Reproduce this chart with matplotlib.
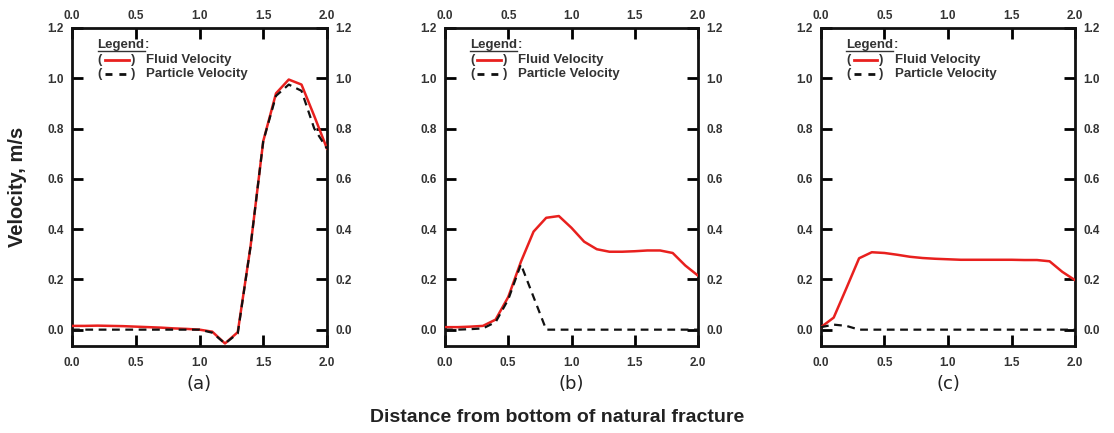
import numpy as np
import matplotlib.pyplot as plt
from matplotlib.lines import Line2D

# ── Dados ──────────────────────────────────────────────────────────────────
x = [0.0, 0.1, 0.2, 0.3, 0.4, 0.5, 0.6, 0.7, 0.8, 0.9, 1.0,
     1.1, 1.2, 1.3, 1.4, 1.5, 1.6, 1.7, 1.8, 1.9, 2.0]

fluido_a = [0.015, 0.015, 0.016, 0.015, 0.014, 0.012, 0.010, 0.008, 0.005, 0.003, 0.000,
            -0.008, -0.055, -0.010, 0.33, 0.75, 0.94, 0.995, 0.975, 0.85, 0.72]
particula_a = [0.0, 0.0, 0.0, 0.0, 0.0, 0.0, 0.0, 0.0, 0.0, 0.0, 0.0,
               -0.012, -0.055, -0.015, 0.33, 0.75, 0.93, 0.975, 0.95, 0.80, 0.72]

fluido_b = [0.010, 0.010, 0.012, 0.015, 0.040, 0.13, 0.27, 0.39, 0.445, 0.452, 0.405,
            0.350, 0.320, 0.310, 0.310, 0.312, 0.315, 0.315, 0.305, 0.255, 0.215]
particula_b = [0.0, 0.0, 0.002, 0.005, 0.030, 0.12, 0.26, 0.13, 0.0, 0.0, 0.0,
               0.0, 0.0, 0.0, 0.0, 0.0, 0.0, 0.0, 0.0, 0.0, 0.0]

fluido_c = [0.010, 0.048, 0.165, 0.284, 0.308, 0.305, 0.298, 0.290, 0.285, 0.282, 0.280,
            0.278, 0.278, 0.278, 0.278, 0.278, 0.277, 0.277, 0.272, 0.230, 0.197]
particula_c = [0.010, 0.020, 0.015, 0.0, 0.0, 0.0, 0.0, 0.0, 0.0, 0.0, 0.0,
               0.0, 0.0, 0.0, 0.0, 0.0, 0.0, 0.0, 0.0, 0.0, 0.0]

xticks = [0.0, 0.5, 1.0, 1.5, 2.0]
yticks = [0.0, 0.2, 0.4, 0.6, 0.8, 1.0, 1.2]
rotulos = ["(a)", "(b)", "(c)"]
series = [(fluido_a, particula_a), (fluido_b, particula_b), (fluido_c, particula_c)]

VERMELHO = "#e8201e"
PRETO = "#111111"
CINZA_TXT = "#333333"

plt.rcParams["font.family"] = ["Liberation Sans", "DejaVu Sans"]

fig = plt.figure(figsize=(11.14, 4.33), dpi=100)
lefts = [72, 445, 821]
widths = [255, 253, 254]
titulos_legenda = []

for i, (fl, pa) in enumerate(series):
    ax = fig.add_axes([lefts[i] / 1114, (433 - 346) / 433, widths[i] / 1114, 318 / 433])
    ax.plot(x, fl, color=VERMELHO, lw=1.8, zorder=3)
    ax.plot(x, pa, color=PRETO, lw=1.6, ls=(0, (3.5, 2.5)), zorder=4)
    ax.set_xlim(0, 2.0)
    ax.set_ylim(-0.065, 1.2)
    ax.set_xticks(xticks)
    ax.set_yticks(yticks)
    ax.xaxis.set_major_formatter(plt.FormatStrFormatter("%.1f"))
    ax.yaxis.set_major_formatter(plt.FormatStrFormatter("%.1f"))
    ax.tick_params(direction="in", length=8, width=2, top=True, right=True,
                   labeltop=False, labelright=True, labelsize=8.5,
                   labelcolor=CINZA_TXT, pad=6)
    ax.tick_params(axis="x", pad=8)
    for lab in ax.get_xticklabels() + ax.get_yticklabels() + ax.yaxis.get_ticklabels(which="both"):
        lab.set_fontweight("bold")
    for s in ax.spines.values():
        s.set_linewidth(2.0)
        s.set_color(PRETO)

    # rótulos do eixo superior
    topo = ax.secondary_xaxis("top")
    topo.set_xticks(xticks)
    topo.xaxis.set_major_formatter(plt.FormatStrFormatter("%.1f"))
    topo.tick_params(length=0, pad=4, labelsize=8.5, labelcolor=CINZA_TXT)
    topo.spines["top"].set_visible(False)
    for lab in topo.get_xticklabels():
        lab.set_fontweight("bold")

    # legenda manual
    tr = ax.transAxes
    t = ax.text(0.1, 0.945, "Legend", transform=tr, fontsize=9.5, fontweight="bold",
                color=CINZA_TXT, va="center")
    titulos_legenda.append((ax, t))
    for j, (lbl, cor, estilo) in enumerate([("Fluid Velocity", VERMELHO, "-"),
                                             ("Particle Velocity", PRETO, (0, (2.5, 2.5)))]):
        yy = 0.9 - j * 0.045
        ax.text(0.1, yy, "(", transform=tr, fontsize=9.5, fontweight="bold",
                color=CINZA_TXT, va="center")
        ax.add_line(Line2D([0.128, 0.222], [yy, yy], transform=tr, color=cor,
                           lw=2.0, ls=estilo))
        ax.text(0.23, yy, ")", transform=tr, fontsize=9.5, fontweight="bold",
                color=CINZA_TXT, va="center")
        ax.text(0.29, yy, lbl, transform=tr, fontsize=9.5, fontweight="bold",
                color=CINZA_TXT, va="center")

    ax.text(0.5, -0.12, rotulos[i], transform=tr, fontsize=13, ha="center",
            va="center", color="#222222", family=["DejaVu Sans"])

# sublinhado do título "Legend" e os dois pontos
fig.canvas.draw()
for ax, t in titulos_legenda:
    bb = t.get_window_extent().transformed(ax.transAxes.inverted())
    ax.add_line(Line2D([bb.x0, bb.x1], [bb.y0 + 0.002, bb.y0 + 0.002],
                       transform=ax.transAxes, color=CINZA_TXT, lw=1.0))
    ax.text(bb.x1, 0.945, ":", transform=ax.transAxes, fontsize=9.5,
            fontweight="bold", color=CINZA_TXT, va="center")

fig.text(18 / 1114, 1 - 187 / 433, "Velocity, m/s", rotation=90, ha="center",
         va="center", fontsize=14.5, fontweight="bold", color="#222222")
fig.text(0.5, (433 - 418) / 433, "Distance from bottom of natural fracture",
         ha="center", va="center", fontsize=14, fontweight="bold", color="#222222")

plt.savefig("out.png", dpi=100)
